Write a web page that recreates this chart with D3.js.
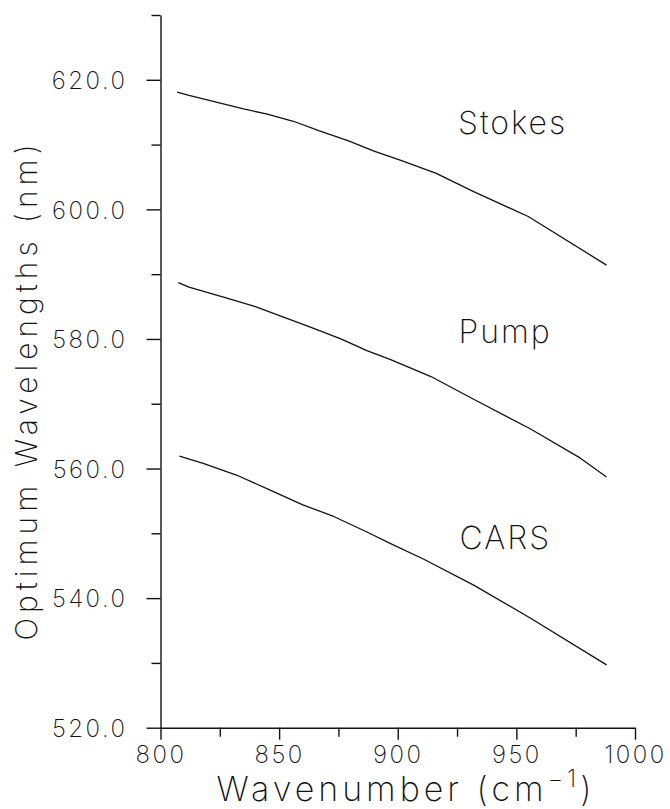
<!DOCTYPE html>
<html>
<head>
<meta charset="utf-8">
<script src="https://cdn.jsdelivr.net/npm/d3@7/dist/d3.min.js"></script>
<style>
  html, body { margin: 0; padding: 0; background: #fff; }
  svg text { font-family: "Inter", "Lato", "Roboto", "DejaVu Sans", sans-serif; font-weight: 200; fill: #111; }
</style>
</head>
<body>
<svg id="chart" width="670" height="809"></svg>
<script>
// Optimum laser wavelengths versus Raman wavenumber
const stokesX = [807, 812, 835, 845, 856, 867, 879, 890, 901, 916, 932, 955, 988];
const stokesY = [618.1, 617.6, 615.5, 614.7, 613.6, 612.1, 610.6, 609.0, 607.6, 605.6, 602.75, 598.9, 591.4];

const pumpX = [807.5, 812, 828, 840, 853, 864, 876, 887, 897, 914, 932, 956, 977, 988];
const pumpY = [588.7, 588.0, 586.3, 585.0, 583.2, 581.7, 580.0, 578.2, 576.8, 574.2, 570.7, 566.1, 561.6, 558.7];

const carsX = [808, 818, 832, 846, 860, 873, 887, 897, 911, 932, 956, 988];
const carsY = [561.9, 560.8, 559.0, 556.7, 554.4, 552.6, 550.2, 548.4, 546.0, 542.0, 536.9, 529.7];

const seriesNames = ["Stokes", "Pump", "CARS"];

const xMajorTicks = [800, 850, 900, 950, 1000];
const xMinorTicks = [825, 875, 925, 975];
const yMajorTicks = [520, 540, 560, 580, 600, 620];
const yMinorTicks = [530, 550, 570, 590, 610, 630];

const xLabel = "Wavenumber";
const yLabel = "Optimum Wavelengths (nm)";

const svg = d3.select("#chart");

const x = d3.scaleLinear().domain([800, 1000]).range([160.5, 635]);
const y = d3.scaleLinear().domain([520, 630]).range([727.7, 15]);

// minor ticks (no labels)
svg.append("g")
  .attr("transform", `translate(0,${y(520)})`)
  .call(d3.axisBottom(x).tickValues(xMinorTicks).tickSize(9).tickFormat(""))
  .call(g => g.select(".domain").remove());
svg.append("g")
  .attr("transform", `translate(${x(800)},0)`)
  .call(d3.axisLeft(y).tickValues(yMinorTicks).tickSize(9).tickFormat(""))
  .call(g => g.select(".domain").remove());

// major axes
const xAxis = svg.append("g")
  .attr("transform", `translate(0,${y(520)})`)
  .call(d3.axisBottom(x).tickValues(xMajorTicks).tickSize(12).tickSizeOuter(0)
    .tickPadding(6).tickFormat(d3.format("d")));
const yAxis = svg.append("g")
  .attr("transform", `translate(${x(800)},0)`)
  .call(d3.axisLeft(y).tickValues(yMajorTicks).tickSize(14).tickSizeOuter(0)
    .tickPadding(19).tickFormat(d3.format(".1f")));

svg.selectAll(".tick line, .domain").attr("stroke", "#111").attr("stroke-width", 1.4);
svg.selectAll(".tick text")
  .attr("font-family", null).attr("font-size", 24).attr("fill", "#111")
  .style("letter-spacing", "2.5px");
yAxis.selectAll(".tick text").attr("dy", "0.36em");

// curves
const line = d3.line().x(d => x(d[0])).y(d => y(d[1]));
const series = [
  d3.zip(stokesX, stokesY),
  d3.zip(pumpX, pumpY),
  d3.zip(carsX, carsY)
];
svg.append("g").selectAll("path")
  .data(series)
  .join("path")
  .attr("d", line)
  .attr("fill", "none")
  .attr("stroke", "#111")
  .attr("stroke-width", 1.3)
  .attr("stroke-linejoin", "round");

// curve names
const namePos = [[925.4, 611.6], [925.6, 579.4], [926, 547.6]];
svg.append("g").selectAll("text")
  .data(seriesNames)
  .join("text")
  .attr("x", (d, i) => x(namePos[i][0]))
  .attr("y", (d, i) => y(namePos[i][1]))
  .attr("font-size", 32)
  .style("letter-spacing", "2px")
  .text(d => d);

// axis titles
const xt = svg.append("text")
  .attr("x", 406)
  .attr("y", 801)
  .attr("text-anchor", "middle")
  .attr("font-size", 34)
  .style("letter-spacing", "4px");
xt.append("tspan").text(xLabel + " (cm");
xt.append("tspan").attr("dy", -14).attr("font-size", 24).text("\u22121");
xt.append("tspan").attr("dy", 14).text(")");

svg.append("text")
  .attr("transform", `translate(37,390) rotate(-90)`)
  .attr("text-anchor", "middle")
  .attr("font-size", 30)
  .style("letter-spacing", "5px")
  .text(yLabel);
</script>
</body>
</html>
